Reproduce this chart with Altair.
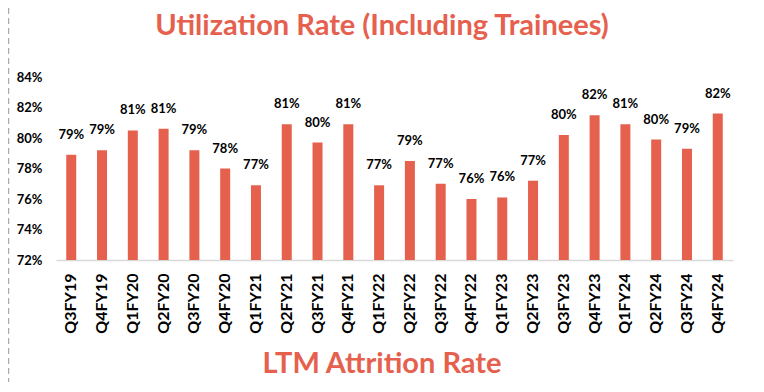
import altair as alt
import pandas as pd

quarters = ["Q3FY19", "Q4FY19", "Q1FY20", "Q2FY20", "Q3FY20", "Q4FY20", "Q1FY21",
            "Q2FY21", "Q3FY21", "Q4FY21", "Q1FY22", "Q2FY22", "Q3FY22", "Q4FY22",
            "Q1FY23", "Q2FY23", "Q3FY23", "Q4FY23", "Q1FY24", "Q2FY24", "Q3FY24", "Q4FY24"]
utilization = [78.9, 79.2, 80.5, 80.6, 79.2, 78.0, 76.9, 80.9, 79.7, 80.9, 76.9,
               78.5, 77.0, 76.0, 76.1, 77.2, 80.2, 81.5, 80.9, 79.9, 79.3, 81.6]
labels = ["79%", "79%", "81%", "81%", "79%", "78%", "77%", "81%", "80%", "81%", "77%",
          "79%", "77%", "76%", "76%", "77%", "80%", "82%", "81%", "80%", "79%", "82%"]
y_ticks = [72, 74, 76, 78, 80, 82, 84]
title_text = "Utilization Rate (Including Trainees)"
footer_text = "LTM Attrition Rate"

RED = "#E5614E"
FONT = "Lato"

df = pd.DataFrame({"q": quarters, "v": utilization, "lab": labels})

base = alt.Chart(df)

x_enc = alt.X("q:N", sort=quarters, title=None,
              scale=alt.Scale(paddingInner=0.67, paddingOuter=0.33),
              axis=alt.Axis(labelAngle=-90, labelFont=FONT, labelFontSize=16,
                            labelFontWeight="bold", labelColor="black", ticks=False,
                            labelPadding=13, domainColor="#D9D9D9", domainWidth=1.5,
                            labelBaseline="middle", labelAlign="right"))
y_enc = alt.Y("v:Q", title=None,
              scale=alt.Scale(domain=[72, 84], clamp=True, zero=False, nice=False),
              axis=alt.Axis(values=y_ticks, labelExpr="datum.value + '%'", grid=False,
                            domain=False, ticks=False, labelFont=FONT, labelFontSize=13,
                            labelFontWeight="bold", labelColor="black", labelPadding=14,
                            labelOverlap=False, tickCount=7))

bars = base.mark_bar(color=RED, width=10).encode(x=x_enc, y=y_enc)

text = base.mark_text(font=FONT, fontSize=13, fontWeight="bold", color="black",
                      baseline="middle", dy=-20).encode(
    x=x_enc, y=y_enc, text="lab:N",
)

title_mark = alt.Chart(pd.DataFrame({"t": [title_text]})).mark_text(
    font=FONT, fontSize=29, fontWeight="bold", color=RED, baseline="middle", align="center"
).encode(x=alt.value(326), y=alt.value(-51), text="t:N")

footer_mark = alt.Chart(pd.DataFrame({"t": [footer_text]})).mark_text(
    font=FONT, fontSize=29, fontWeight="bold", color=RED, baseline="middle", align="center"
).encode(x=alt.value(326), y=alt.value(287), text="t:N")

dash = alt.Chart(pd.DataFrame({"a": [0]})).mark_rule(
    color="#AAAAAA", strokeDash=[6, 4], strokeWidth=1.5
).encode(x=alt.value(-47.5), y=alt.value(-69), y2=alt.value(320))

chart = alt.layer(bars, text, title_mark, footer_mark, dash).properties(
    width=677, height=183,
    background="white",
    autosize=alt.AutoSizeParams(type="none"),
    padding={"left": 48, "top": 69, "right": 23, "bottom": 122},
).configure_view(strokeWidth=0, stroke="transparent")

chart.save("out.html", embed_options={"renderer": "svg", "actions": False})
